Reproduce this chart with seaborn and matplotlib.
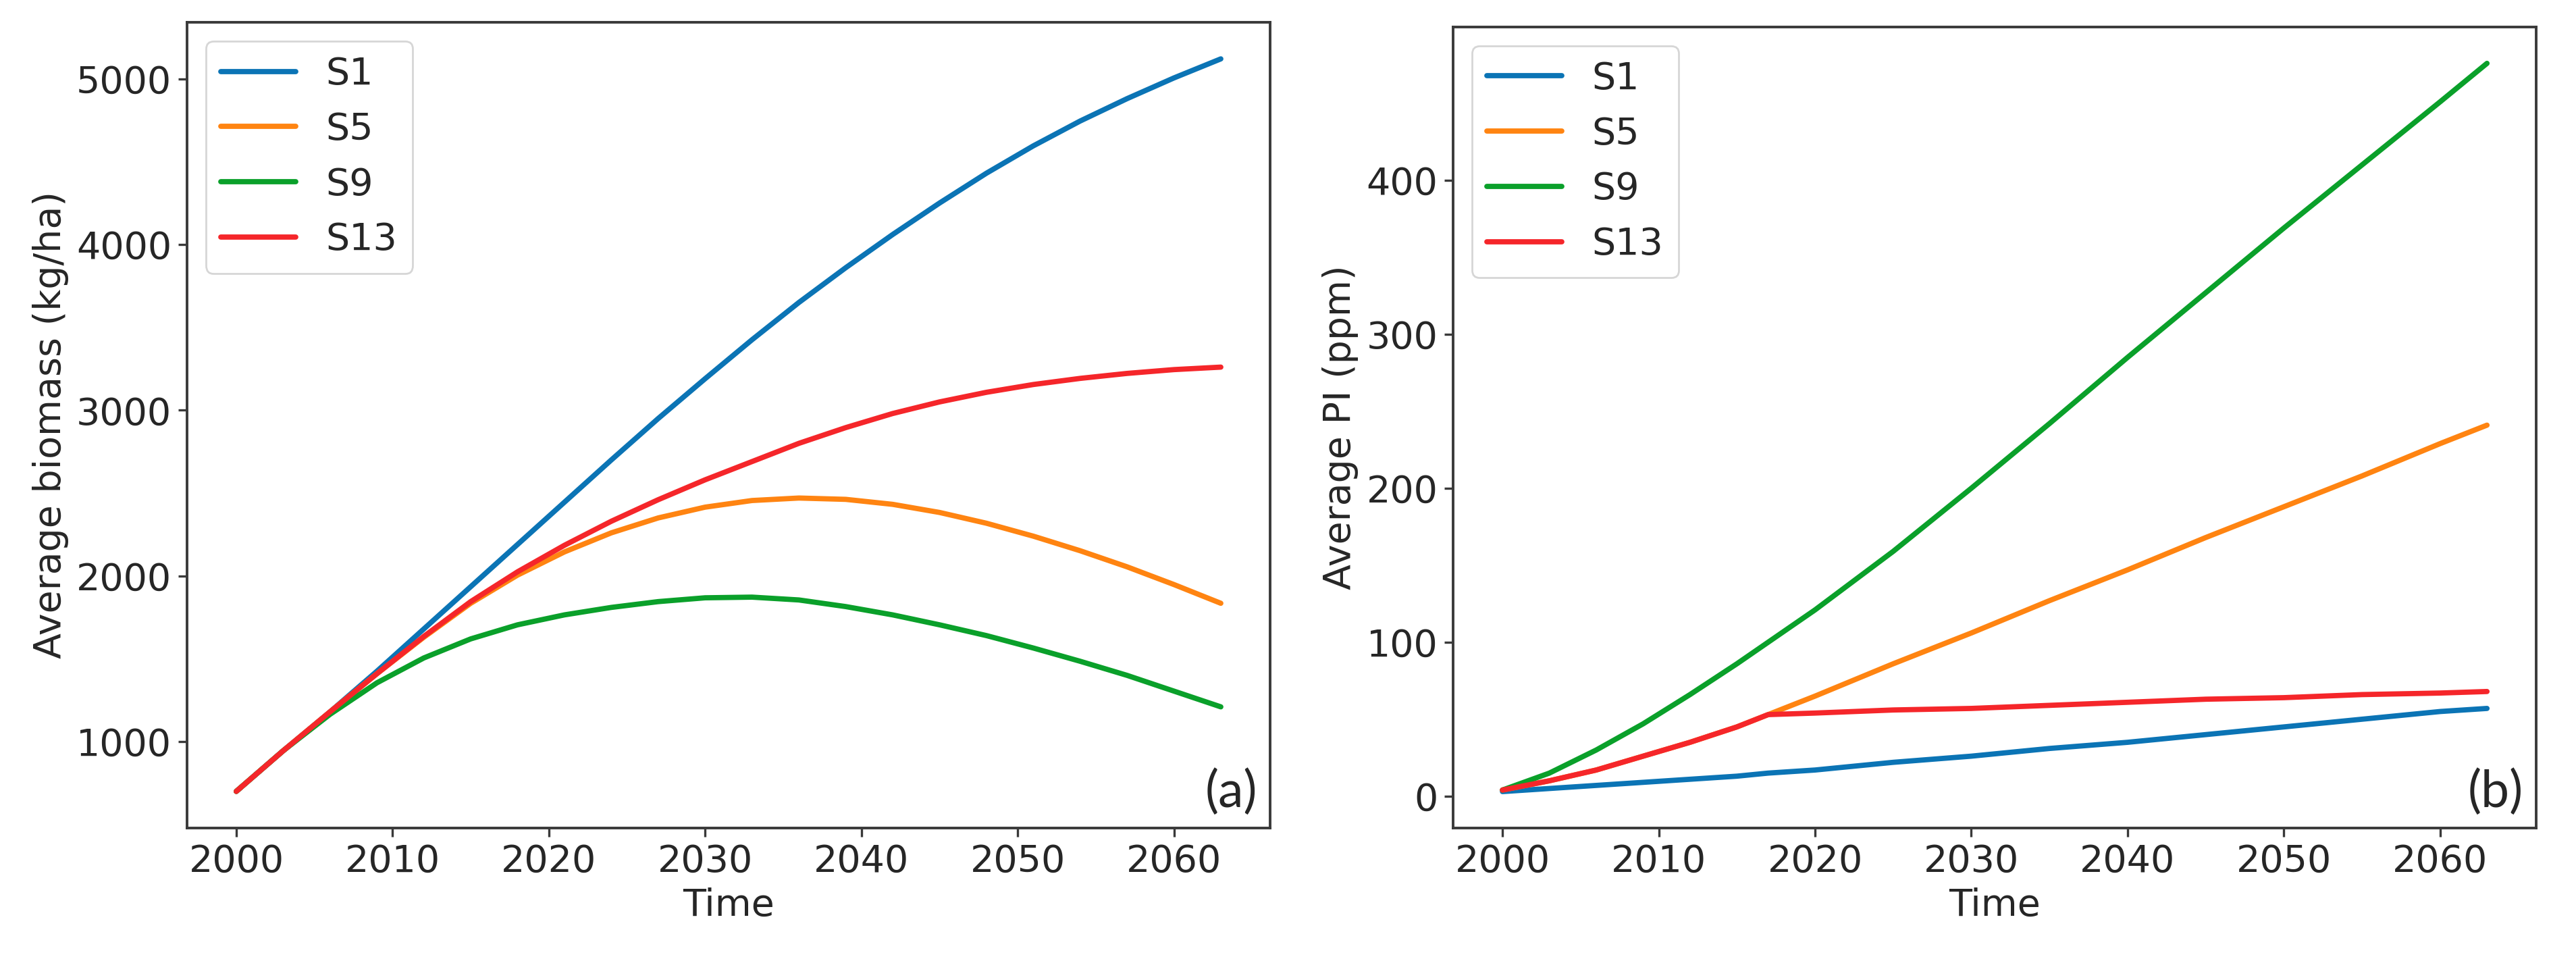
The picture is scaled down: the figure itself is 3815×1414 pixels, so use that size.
import matplotlib
matplotlib.use("Agg")
import matplotlib.pyplot as plt
import pandas as pd
import seaborn as sns

# Scenarios shown in both panels
scenarios = ["S1", "S5", "S9", "S13"]
colors = {"S1": "#0b74b5", "S5": "#ff8411", "S9": "#0aa02a", "S13": "#f5262a"}

# Panel (a): average biomass (kg/ha)
years_a = [2000, 2003, 2006, 2009, 2012, 2015, 2018, 2021, 2024, 2027, 2030,
           2033, 2036, 2039, 2042, 2045, 2048, 2051, 2054, 2057, 2060, 2063]
biomass_s1 = [700, 945, 1180, 1425, 1680, 1935, 2190, 2445, 2700, 2950, 3190,
              3425, 3650, 3860, 4060, 4250, 4430, 4595, 4745, 4880, 5005, 5120]
biomass_s5 = [700, 945, 1180, 1410, 1630, 1835, 2005, 2145, 2260, 2350, 2415,
              2455, 2470, 2462, 2432, 2383, 2318, 2240, 2152, 2055, 1948, 1835]
biomass_s9 = [700, 945, 1165, 1355, 1505, 1620, 1705, 1765, 1810, 1845, 1868,
              1872, 1855, 1815, 1765, 1705, 1640, 1565, 1485, 1400, 1305, 1210]
biomass_s13 = [700, 945, 1180, 1410, 1635, 1845, 2025, 2185, 2330, 2460, 2580,
               2690, 2800, 2895, 2980, 3050, 3108, 3155, 3192, 3222, 3245, 3260]

# Panel (b): average PI (ppm)
years_b = [2000, 2003, 2006, 2009, 2012, 2015, 2017, 2020, 2025, 2030,
           2035, 2040, 2045, 2050, 2055, 2060, 2063]
pi_s1 = [3, 5, 7, 9, 11, 13, 15, 17, 22, 26, 31, 35, 40, 45, 50, 55, 57]
pi_s5 = [4, 10, 17, 26, 35, 45, 53, 65, 86, 106, 127, 147, 168, 188, 208, 229, 241]
pi_s9 = [4, 15, 30, 47, 66, 86, 100, 121, 159, 200, 242, 285, 327, 369, 410, 451, 476]
pi_s13 = [4, 10, 17, 26, 35, 45, 53, 54, 56, 57, 59, 61, 63, 64, 66, 67, 68]


def to_long(years, series):
    rows = []
    for name, vals in zip(scenarios, series):
        for yr, v in zip(years, vals):
            rows.append((yr, v, name))
    return pd.DataFrame(rows, columns=["Time", "value", "Scenario"])


df_a = to_long(years_a, [biomass_s1, biomass_s5, biomass_s9, biomass_s13])
df_b = to_long(years_b, [pi_s1, pi_s5, pi_s9, pi_s13])

sns.set_style("ticks")
plt.rcParams["font.family"] = ["DejaVu Sans"]
plt.rcParams["axes.linewidth"] = 1.4
plt.rcParams["axes.edgecolor"] = "#3a3a3a"

fig = plt.figure(figsize=(19.08, 7.07), dpi=200)
ax1 = fig.add_axes([0.0726, 0.133, 0.4203, 0.8437])
ax2 = fig.add_axes([0.564, 0.133, 0.4203, 0.8388])

panels = [
    (ax1, df_a, "Average biomass (kg/ha)", [1000, 2000, 3000, 4000, 5000], "(a)"),
    (ax2, df_b, "Average PI (ppm)", [0, 100, 200, 300, 400], "(b)"),
]

for ax, df, ylab, yticks, tag in panels:
    sns.lineplot(data=df, x="Time", y="value", hue="Scenario", hue_order=scenarios,
                 palette=colors, linewidth=2.8, ax=ax)
    for side in ["top", "right", "left", "bottom"]:
        ax.spines[side].set_visible(True)
    ax.set_xticks(range(2000, 2061, 10))
    ax.set_yticks(yticks)
    ax.tick_params(labelsize=20, length=4.7, width=1.2, color="#3a3a3a")
    ax.set_xlabel("Time", fontsize=20)
    ax.set_ylabel(ylab, fontsize=20)
    handles, labels = ax.get_legend_handles_labels()
    for h in handles:
        h.set_linewidth(2.8)
    ax.legend(handles, labels, loc="upper left", fontsize=20, title=None)
    ax.text(0.988, 0.015, tag, transform=ax.transAxes, ha="right", va="bottom",
            fontsize=27, family=["Lato", "DejaVu Sans"])

fig.savefig("out.png", dpi=200)
